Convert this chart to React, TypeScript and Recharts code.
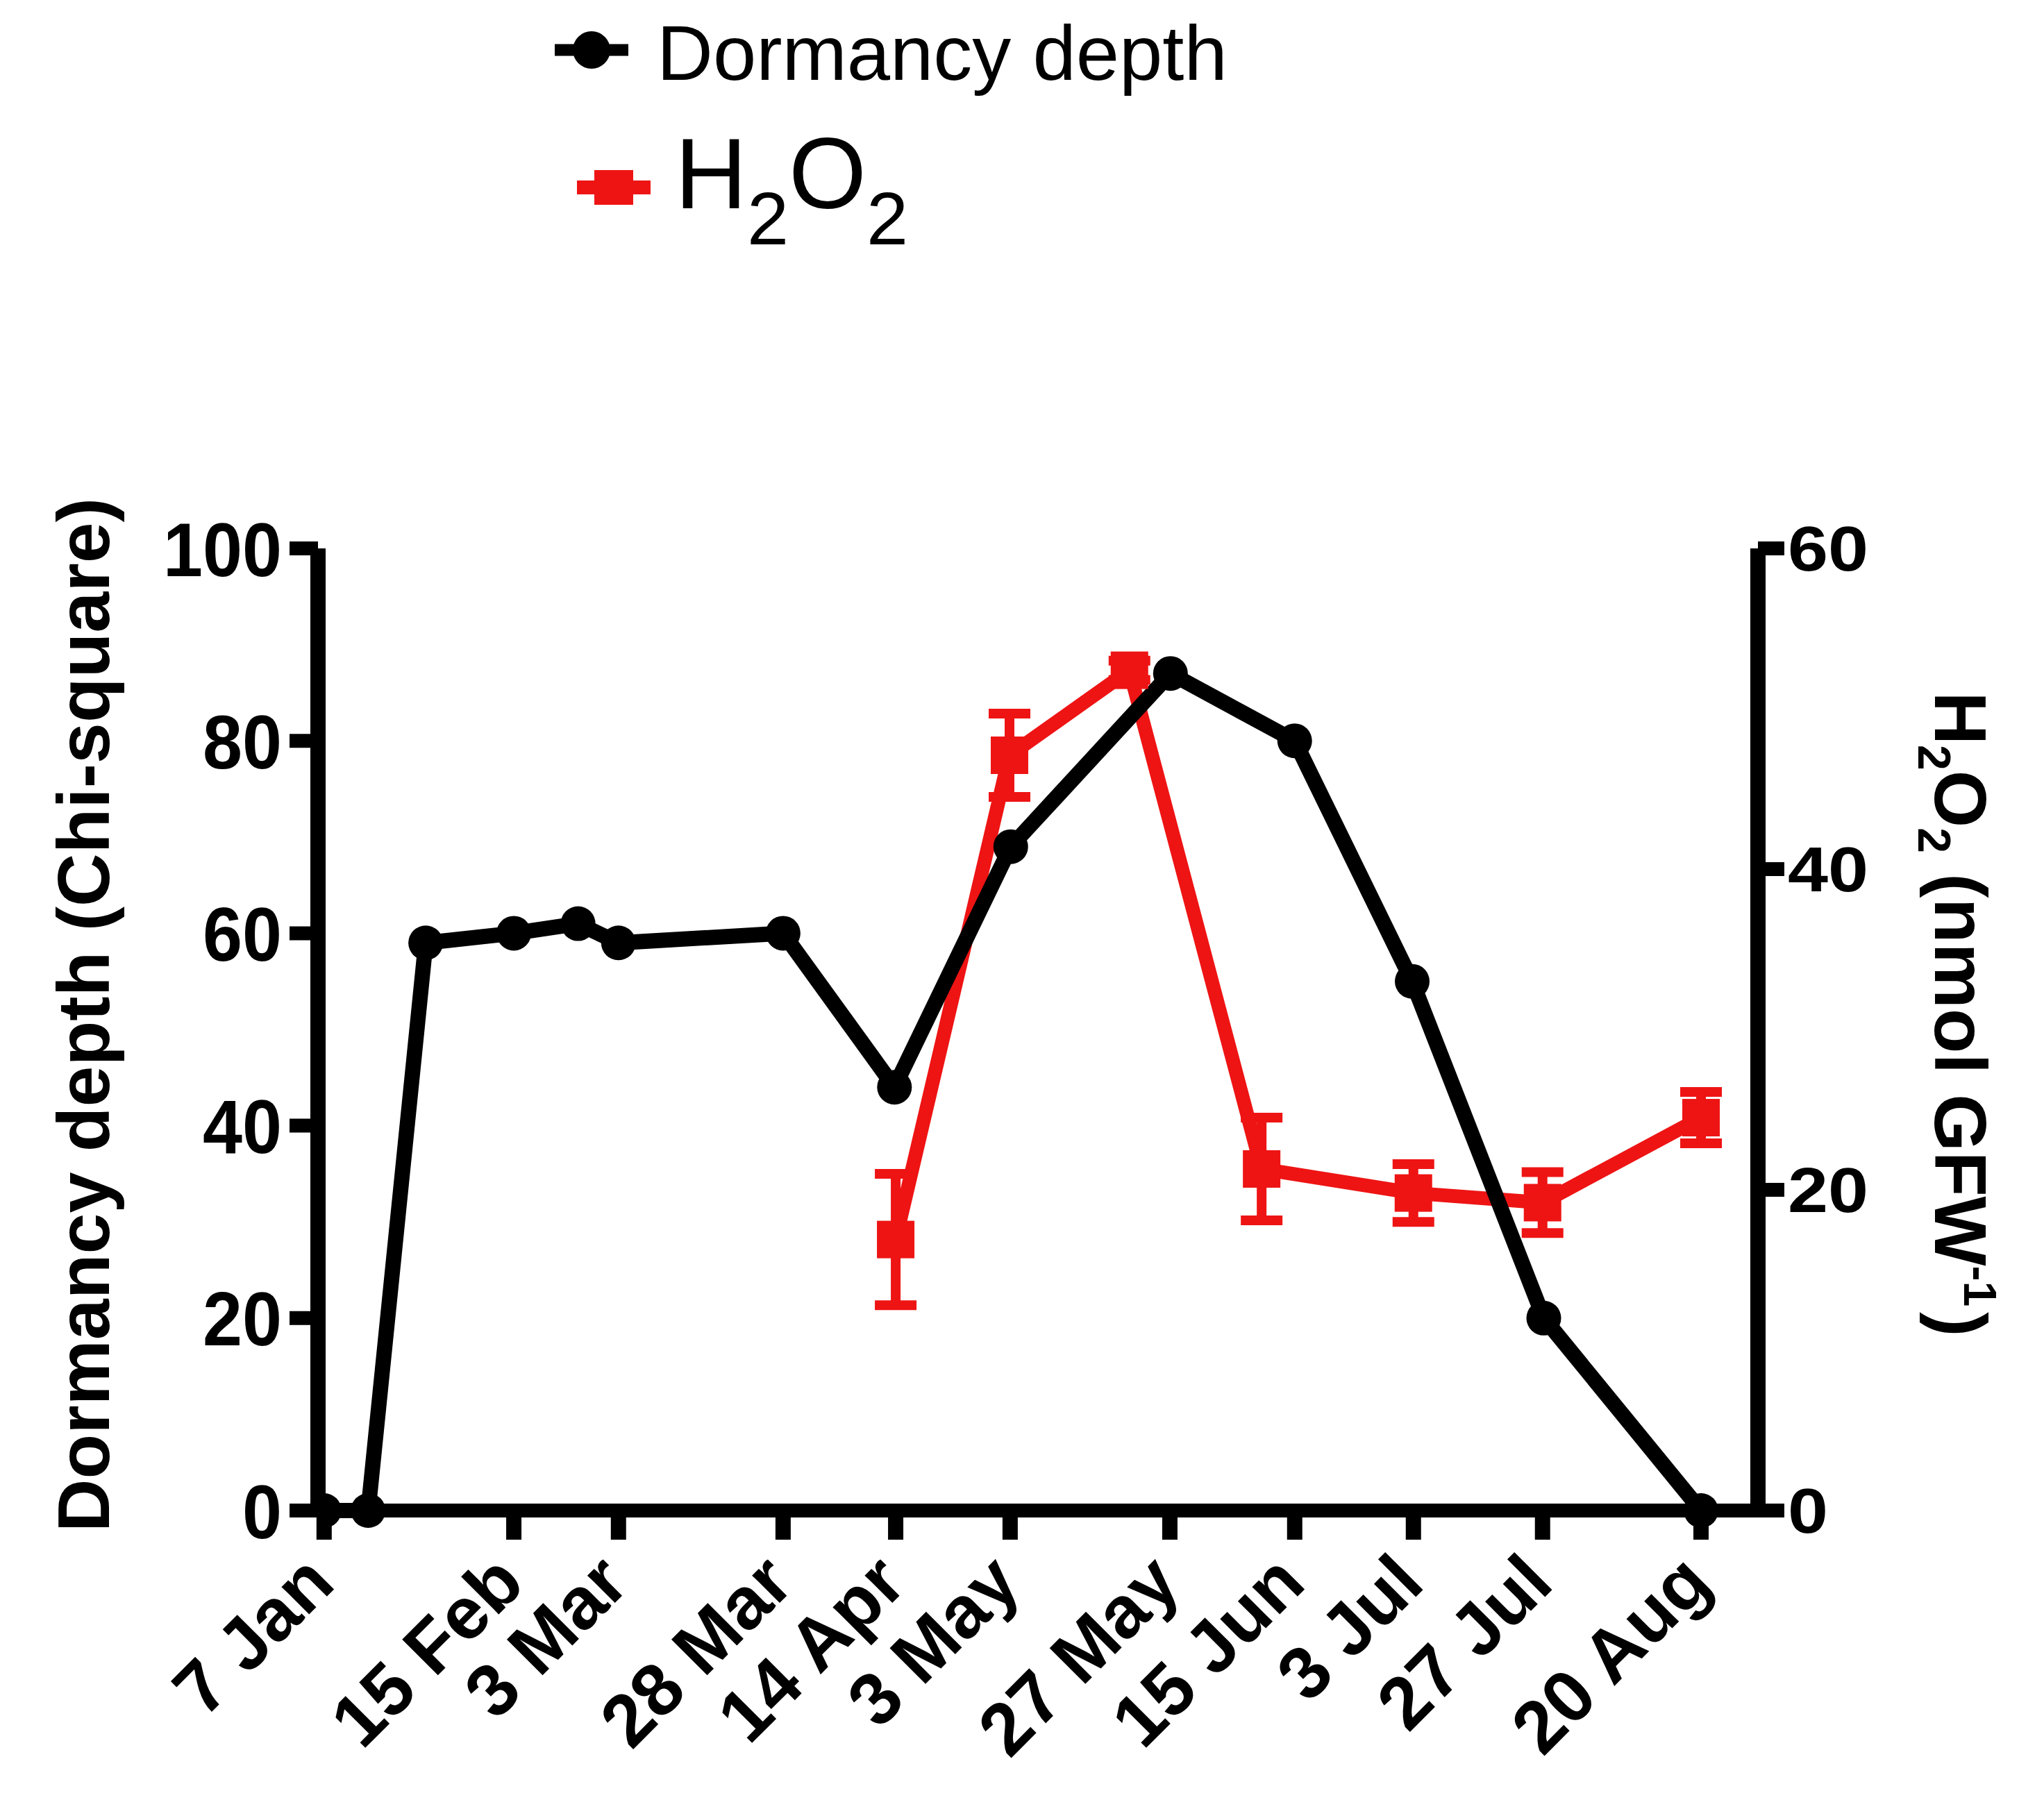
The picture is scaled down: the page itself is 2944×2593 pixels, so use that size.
import React from 'react';
import { LineChart, Line, XAxis, YAxis, ErrorBar, Legend } from 'recharts';

const BLACK = '#000000';
const RED = '#ee1414';
const FONT = '"Liberation Sans", Arial, Helvetica, sans-serif';

// x positions, on a day-of-year-like scale
const dormancyDays = [7, 14.2, 23.6, 38.0, 48.5, 55.1, 82.0, 100.2, 119.2, 145.3, 165.6, 184.8, 206.3, 232];
const dormancyDepth = [0, 0, 59, 60, 61, 59, 60, 44, 69, 87, 80, 55, 20, 0];

const h2o2Days = [100.4, 119.0, 138.6, 160.2, 185.0, 206.1, 232];
const h2o2Values = [16.9, 47.1, 52.4, 21.3, 19.8, 19.2, 24.5];
const h2o2Errors = [4.1, 2.6, 0.6, 3.2, 1.8, 1.9, 1.6];

const xTickDays = [7, 38.0, 55.1, 82.0, 100.4, 119.1, 145.2, 165.6, 185.0, 206.1, 232];
const xTickLabels = ['7 Jan', '15 Feb', '3 Mar', '28 Mar', '14 Apr', '3 May', '27 May', '15 Jun', '3 Jul', '27 Jul', '20 Aug'];
const xDomain = [6, 241.3];
const leftTicks = [0, 20, 40, 60, 80, 100];
const rightTicks = [0, 20, 40, 60];

const dormancyData = dormancyDays.map((d, i) => ({ day: d, depth: dormancyDepth[i] }));
const h2o2Data = h2o2Days.map((d, i) => ({ day: d, h2o2: h2o2Values[i], err: h2o2Errors[i] }));

const XTick = (props: any) => {
  const { x, y, payload } = props;
  const i = xTickDays.indexOf(payload.value);
  const ax = x + 19;
  return (
    <text
      x={ax}
      y={y}
      transform={`rotate(-45 ${ax} ${y})`}
      textAnchor="end"
      fontFamily={FONT}
      fontWeight="bold"
      fontSize={106}
      fill={BLACK}
    >
      {i >= 0 ? xTickLabels[i] : ''}
    </text>
  );
};

const LeftTick = (props: any) => {
  const { x, y, payload } = props;
  const s = String(payload.value);
  return (
    <text
      x={x}
      y={y}
      dy="0.36em"
      textAnchor="end"
      fontFamily={FONT}
      fontWeight="bold"
      fontSize={110}
      textLength={s.length * 57}
      lengthAdjust="spacingAndGlyphs"
      fill={BLACK}
    >
      {s}
    </text>
  );
};

const RightTick = (props: any) => {
  const { x, y, payload } = props;
  const s = String(payload.value);
  return (
    <text
      x={x}
      y={y}
      dy="0.36em"
      textAnchor="start"
      fontFamily={FONT}
      fontWeight="bold"
      fontSize={90}
      textLength={s.length * 58}
      lengthAdjust="spacingAndGlyphs"
      fill={BLACK}
    >
      {s}
    </text>
  );
};

const LeftTitle = (props: any) => {
  const vb = props.viewBox || { x: 0, y: 782, width: 450, height: 1386 };
  const cx = vb.x + 149;
  const cy = vb.y + vb.height / 2 - 21;
  return (
    <text
      x={cx}
      y={cy}
      transform={`rotate(-90 ${cx} ${cy})`}
      textAnchor="middle"
      fontFamily={FONT}
      fontWeight="bold"
      fontSize={106}
      fill={BLACK}
    >
      Dormancy depth (Chi-square)
    </text>
  );
};

const RightTitle = (props: any) => {
  const vb = props.viewBox || { x: 2524, y: 782, width: 404, height: 1386 };
  const cx = vb.x + 255;
  const cy = vb.y + vb.height / 2 - 22;
  return (
    <text
      x={cx}
      y={cy}
      transform={`rotate(90 ${cx} ${cy})`}
      textAnchor="middle"
      fontFamily={FONT}
      fontWeight="bold"
      fontSize={106}
      fill={BLACK}
    >
      H
      <tspan fontSize={66} dy={24}>2</tspan>
      <tspan dy={-24}>O</tspan>
      <tspan fontSize={66} dy={24}>2</tspan>
      <tspan dy={-24}> (nmol GFW</tspan>
      <tspan fontSize={66} dy={-42}>-1</tspan>
      <tspan dy={42} dx={8}>)</tspan>
    </text>
  );
};

const LegendBox = () => (
  <svg width={1800} height={400} style={{ display: 'block' }}>
    <line x1={791} x2={897} y1={64} y2={64} stroke={BLACK} strokeWidth={17} />
    <circle cx={844} cy={64} r={27} fill={BLACK} />
    <text x={938} y={107} fontFamily={FONT} fontSize={112} fill={BLACK}>
      Dormancy depth
    </text>
    <line x1={823} x2={929} y1={262} y2={262} stroke={RED} strokeWidth={20} />
    <rect x={848} y={237} width={56} height={50} fill={RED} />
    <text x={964} y={292} fontFamily={FONT} fontSize={144} fill={BLACK}>
      H
      <tspan fontSize={108} dy={52}>2</tspan>
      <tspan dy={-52}>O</tspan>
      <tspan fontSize={108} dy={52}>2</tspan>
    </text>
  </svg>
);

const RedSquare = (props: any) => {
  const { cx, cy, index } = props;
  if (cx == null || cy == null) return <g key={`sq-${index}`} />;
  return <rect key={`sq-${index}`} x={cx - 27} y={cy - 27} width={54} height={54} fill={RED} />;
};

const BlackDot = (props: any) => {
  const { cx, cy, index } = props;
  if (cx == null || cy == null) return <g key={`dot-${index}`} />;
  return <circle key={`dot-${index}`} cx={cx} cy={cy} r={25} fill={BLACK} />;
};

export default function App() {
  return (
    <div style={{ width: 2928, height: 2577, background: '#ffffff' }}>
      <LineChart
        width={2928}
        height={2577}
        margin={{ top: 782, right: 0, bottom: 0, left: 0 }}
        style={{ background: '#ffffff' }}
      >
        <XAxis
          dataKey="day"
          type="number"
          domain={xDomain}
          ticks={xTickDays}
          interval={0}
          height={409}
          axisLine={{ stroke: BLACK, strokeWidth: 20 }}
          tickLine={{ stroke: BLACK, strokeWidth: 22 }}
          tickSize={42}
          tickMargin={67}
          tick={<XTick />}
          allowDataOverflow
        />
        <YAxis
          yAxisId="left"
          orientation="left"
          domain={[0, 100]}
          ticks={leftTicks}
          interval={0}
          width={450}
          axisLine={{ stroke: BLACK, strokeWidth: 22 }}
          tickLine={{ stroke: BLACK, strokeWidth: 20 }}
          tickSize={41}
          tickMargin={11}
          tick={<LeftTick />}
          label={(p: any) => <LeftTitle {...p} />}
        />
        <YAxis
          yAxisId="right"
          orientation="right"
          domain={[0, 60]}
          ticks={rightTicks}
          interval={0}
          width={404}
          axisLine={{ stroke: BLACK, strokeWidth: 22 }}
          tickLine={{ stroke: BLACK, strokeWidth: 20 }}
          tickSize={38}
          tickMargin={5}
          tick={<RightTick />}
          label={(p: any) => <RightTitle {...p} />}
        />
        <Legend
          verticalAlign="middle"
          align="center"
          layout="horizontal"
          wrapperStyle={{ top: 0, left: 0, width: 1800, height: 400 }}
          content={() => <LegendBox />}
        />
        <Line
          yAxisId="right"
          data={h2o2Data}
          dataKey="h2o2"
          type="linear"
          stroke={RED}
          strokeWidth={20}
          dot={(p: any) => <RedSquare {...p} />}
          activeDot={false}
          isAnimationActive={false}
        >
          <ErrorBar dataKey="err" direction="y" width={30} strokeWidth={14} stroke={RED} isAnimationActive={false} />
        </Line>
        <Line
          yAxisId="left"
          data={dormancyData}
          dataKey="depth"
          type="linear"
          stroke={BLACK}
          strokeWidth={22}
          dot={(p: any) => <BlackDot {...p} />}
          activeDot={false}
          isAnimationActive={false}
        />
      </LineChart>
    </div>
  );
}
